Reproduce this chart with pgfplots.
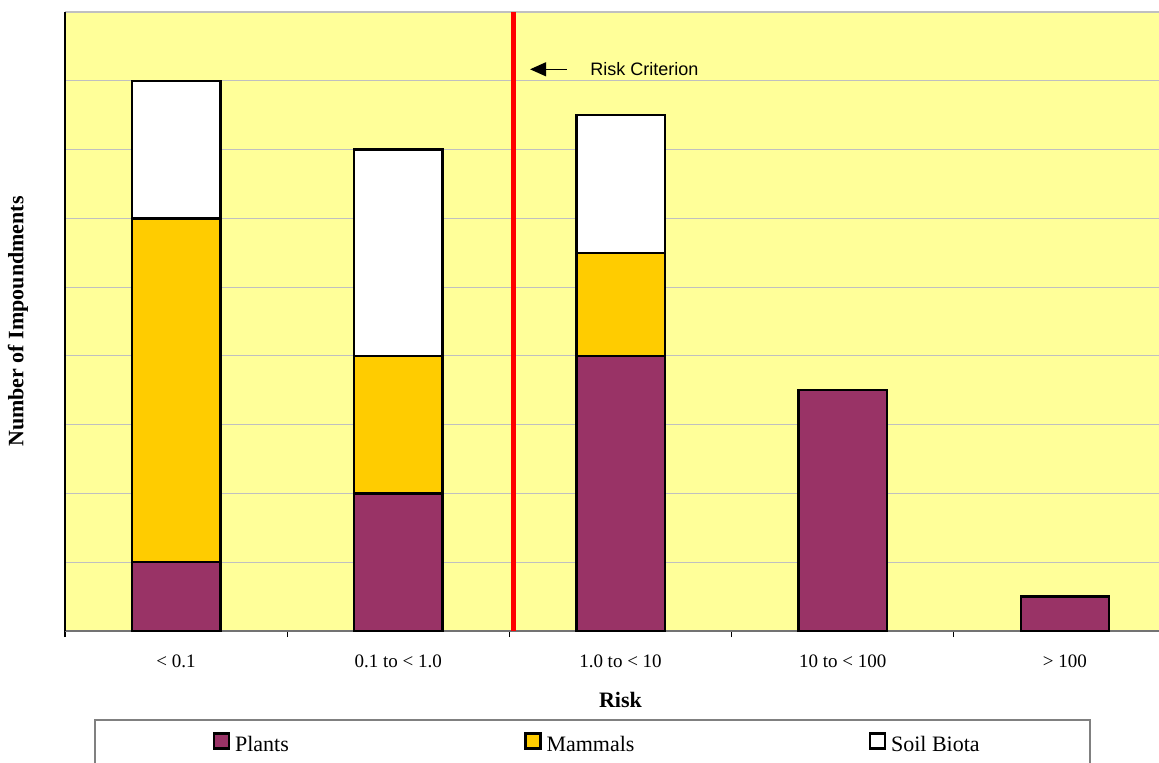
\documentclass[border=0pt]{standalone}
\usepackage{fontspec}
\setmainfont{Liberation Serif}
\newfontfamily\arialfont{Liberation Sans}
\usepackage{pgfplots}
\pgfplotsset{compat=1.18}
\usetikzlibrary{arrows.meta}

\definecolor{plotbg}{HTML}{FFFF99}
\definecolor{plants}{HTML}{993366}
\definecolor{mammals}{HTML}{FFCC00}
\definecolor{gridgray}{HTML}{C0C0C0}

\begin{document}
\begin{tikzpicture}
\useasboundingbox (-32.5pt,-65.5pt) rectangle (547pt,315.5pt);
\begin{axis}[
  at={(0,0)}, anchor=south west,
  scale only axis,
  width=555.5pt, height=309.5pt,
  xmin=-0.5, xmax=4.5, ymin=0, ymax=9,
  ybar stacked, bar width=44.2pt,
  axis background/.style={fill=plotbg},
  axis x line*=bottom, axis y line*=left,
  x axis line style={black!55, line width=0.6pt, -},
  y axis line style={black, line width=0.8pt, -},
  xtick={0,...,4},
  xticklabels={< 0.1, 0.1 to < 1.0, 1.0 to < 10, 10 to < 100, > 100},
  major tick length=0pt,
  minor xtick={-0.5,0.5,1.5,2.5,3.5,4.5},
  minor tick length=3pt, tick align=outside,
  minor tick style={black, line width=0.6pt},
  ytick={1,...,9}, yticklabels={},
  ymajorgrids, major grid style={gridgray, line width=0.6pt},
  xticklabel style={font=\fontsize{9.5}{11}\selectfont, anchor=center, yshift=-15pt},
  xlabel={\textbf{Risk}},
  ylabel={\textbf{Number of Impoundments}},
  xlabel style={at={(axis description cs:0.5,-0.1115)}, anchor=center, font=\fontsize{11}{13}\selectfont},
  ylabel style={at={(axis description cs:-0.0423,0.5)}, anchor=center, font=\fontsize{11}{13}\selectfont},
  legend columns=3,
  legend image code/.code={\draw[#1] (0pt,-1.5pt) rectangle (7.5pt,6pt);},
  legend style={at={([xshift=73.85pt,yshift=-56.25pt]axis description cs:0,0)},
    anchor=west, draw=none, fill=none, inner sep=0pt, outer sep=0pt,
    font=\fontsize{11}{13}\selectfont,
    nodes={inner sep=0pt, outer sep=0pt}},
  legend cell align=left,
]
% counts per risk class, stacked by receptor group
\addplot[fill=plants, draw=black, line width=1.2pt]
  coordinates {(0,1) (1,2) (2,4) (3,3.5) (4,0.5)};
\addlegendentry{\makebox[147pt][l]{\hspace{2.5pt}Plants}}
\addplot[fill=mammals, draw=black, line width=1.2pt]
  coordinates {(0,5) (1,2) (2,1.5)};
\addlegendentry{\makebox[163.6pt][l]{\hspace{2.5pt}Mammals}}
\addplot[fill=white, draw=black, line width=1.2pt]
  coordinates {(0,2) (1,3) (2,2)};
\addlegendentry{\hspace{2.5pt}Soil Biota}

% risk criterion marker
\draw[red, line width=2.6pt] (axis cs:1.52,0) -- (axis cs:1.52,9);
\draw[-{Triangle[length=8pt,width=7pt]}, line width=0.6pt]
  (axis cs:1.759,8.167) -- (axis cs:1.593,8.167);
\node[anchor=west, inner sep=0pt, font=\arialfont\fontsize{9}{11}\selectfont]
  at (axis cs:1.863,8.167) {Risk Criterion};
\end{axis}
% legend frame
\draw[black!50, line width=0.6pt] (15pt,-80pt) -- (15pt,-44.5pt) -- (512.5pt,-44.5pt) -- (512.5pt,-80pt);
\end{tikzpicture}
\end{document}
